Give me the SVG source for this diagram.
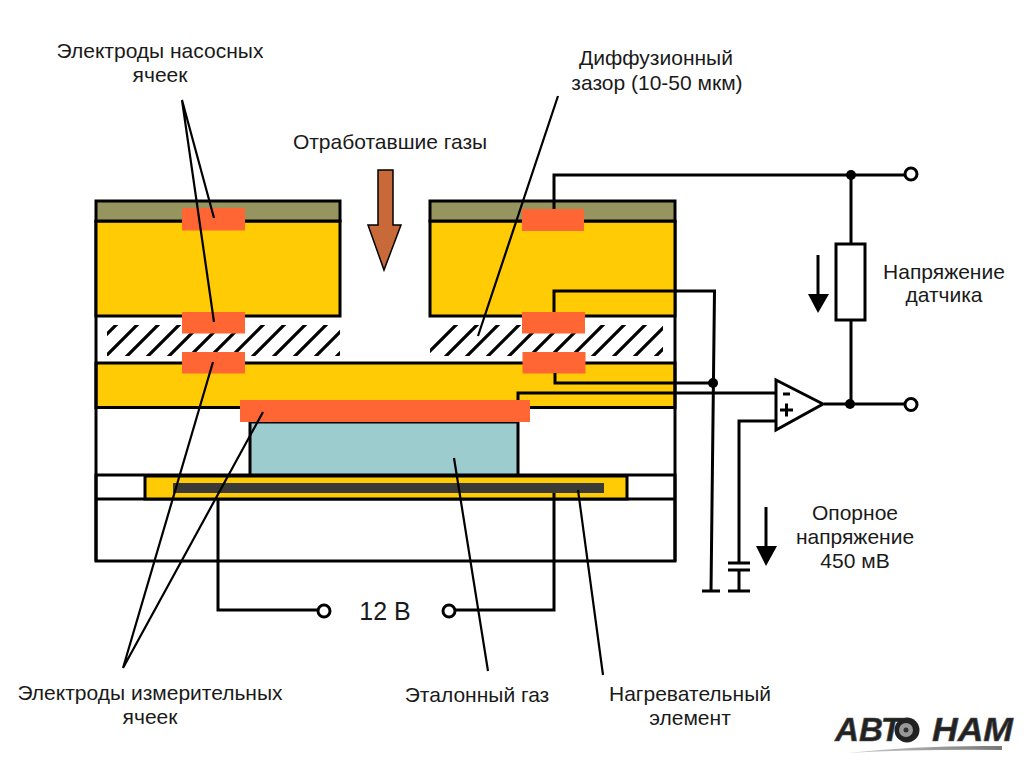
<svg xmlns="http://www.w3.org/2000/svg" width="1024" height="768" viewBox="0 0 1024 768">
<style>
text{font-family:"Liberation Sans",Arial,sans-serif;font-size:21px;fill:#1a1a1a;text-anchor:middle}
.y{fill:#ffcb05;stroke:#000;stroke-width:3}
.o{fill:#97955f;stroke:#000;stroke-width:3}
.e{fill:#ff6633}
.w{fill:none;stroke:#000;stroke-width:3}
.l{fill:none;stroke:#000;stroke-width:2.2}
.t{fill:#fff;stroke:#000;stroke-width:3}
.d{fill:#000}
.h{fill:none;stroke:#000;stroke-width:3.2}
.logo{font-size:33px;font-weight:bold;font-style:italic;fill:#222;stroke:#555;stroke-width:.6;text-anchor:start}
</style>
<defs>
<clipPath id="c1"><rect x="107" y="325" width="233" height="31"/></clipPath>
<clipPath id="c2"><rect x="430" y="325" width="233" height="31"/></clipPath>
<linearGradient id="sw" x1="0" x2="1"><stop offset="0" stop-color="#ccc"/><stop offset="1" stop-color="#777"/></linearGradient>
</defs>
<g id="housing">
<g clip-path="url(#c1)"><path class="h" d="M81 360L121 320M102 360L142 320M123 360L163 320M144 360L184 320M165 360L205 320M186 360L226 320M207 360L247 320M228 360L268 320M249 360L289 320M270 360L310 320M291 360L331 320M312 360L352 320M333 360L373 320"/></g>
<g clip-path="url(#c2)"><path class="h" d="M421 360L461 320M442 360L482 320M463 360L503 320M484 360L524 320M505 360L545 320M526 360L566 320M547 360L587 320M568 360L608 320M589 360L629 320M610 360L650 320M631 360L671 320M652 360L692 320"/></g>
<rect x="96" y="363" width="579" height="44.500" class="y"/>
<rect x="96" y="475" width="579" height="86" fill="#fff" stroke="#000" stroke-width="3"/>
<path class="w" d="M96 221V561M675 221V561M96 499H675"/>
</g>
<g id="left-block">
<rect x="96" y="221" width="244" height="95" class="y"/>
<rect x="96" y="201" width="244" height="20" class="o"/>
</g>
<g id="right-block">
<rect x="430" y="221" width="245" height="95" class="y"/>
<rect x="430" y="201" width="245" height="20" class="o"/>
</g>
<g id="reference-chamber">
<rect x="250" y="422" width="268" height="53" fill="#9cccce" stroke="#000" stroke-width="3"/>
</g>
<g id="heater">
<rect x="145" y="476" width="482" height="23" class="y"/>
<rect x="173" y="483" width="431" height="10" fill="#3b3a36"/>
</g>
<g id="electrodes">
<rect x="182" y="208" width="63" height="22.500" class="e"/>
<rect x="182" y="312" width="63" height="21.500" class="e"/>
<rect x="182" y="352" width="63" height="21.500" class="e"/>
<rect x="522" y="209" width="62" height="22" class="e"/>
<rect x="522" y="312" width="63" height="21.500" class="e"/>
<rect x="522.500" y="352" width="63" height="21.500" class="e"/>
<rect x="240" y="400" width="290" height="22" class="e"/>
</g>
<g id="connectors">
<path class="w" d="M554 209V175H905M851 175V405M824 404H905"/>
<path class="w" d="M554 312V291H714.500L711 591M702 591H720"/>
<path class="w" d="M555 373V383H713"/>
<path class="w" d="M518 400V393H776M776 421H739V563M728 563H750M728 570H750M739 570V591M728 591H750"/>
<path class="w" d="M218 499V610H318M554 493V610H455"/>
<path class="l" d="M182 100L214 218M182 100L214 322M123 668L213 362M123 668L263 412M558 96L478 336M454 458L488 671M578 490L603 675"/>
<circle cx="851" cy="175" r="5" class="d"/>
<circle cx="850" cy="404" r="5" class="d"/>
<circle cx="713" cy="383" r="5" class="d"/>
</g>
<g id="terminals">
<circle cx="911" cy="174" r="6" class="t"/>
<circle cx="911" cy="404.500" r="6" class="t"/>
<circle cx="324" cy="611" r="6" class="t"/>
<circle cx="449" cy="611" r="6" class="t"/>
</g>
<g id="resistor"><rect x="836" y="244" width="29" height="76" class="t"/></g>
<g id="opamp">
<path class="t" d="M776 380L823 404L776 430Z"/>
<path class="w" d="M783 394H790M780 410H793M786.500 403.500V416.500"/>
</g>
<g id="arrows">
<path d="M378 170H393V225H401L384 270L368 225H378Z" fill="#c8693a" stroke="#000" stroke-width="1.500"/>
<path d="M818 255V296" class="w"/><path d="M808 294H829L818 313Z" class="d"/>
<path d="M766 507V548" class="w"/><path d="M756 546H777L766 566Z" class="d"/>
</g>
<g id="labels">
<text x="160" y="58">Электроды насосных</text>
<text x="160" y="82">ячеек</text>
<text x="390" y="149">Отработавшие газы</text>
<text x="656" y="65">Диффузионный</text>
<text x="657" y="90">зазор (10-50 мкм)</text>
<text x="944" y="279">Напряжение</text>
<text x="944" y="302">датчика</text>
<text x="855" y="520">Опорное</text>
<text x="855" y="544">напряжение</text>
<text x="855" y="568">450 мВ</text>
<text x="385" y="620" style="font-size:25px">12 В</text>
<text x="150" y="700">Электроды измерительных</text>
<text x="150" y="724">ячеек</text>
<text x="477" y="702">Эталонный газ</text>
<text x="690" y="701">Нагревательный</text>
<text x="690" y="725">элемент</text>
</g>
<g id="logo">
<path d="M847 753Q920 745 1002 746L1002 750Q920 749 847 753Z" fill="url(#sw)"/>
<text x="835" y="741" class="logo" textLength="66" lengthAdjust="spacingAndGlyphs">АВТ</text>
<circle cx="907" cy="730" r="12.500" fill="#222"/>
<circle cx="906" cy="730" r="7" fill="#999"/>
<circle cx="906" cy="730" r="2.500" fill="#333"/>
<text x="932" y="741" class="logo" textLength="81" lengthAdjust="spacingAndGlyphs">НАМ</text>
</g>
</svg>
